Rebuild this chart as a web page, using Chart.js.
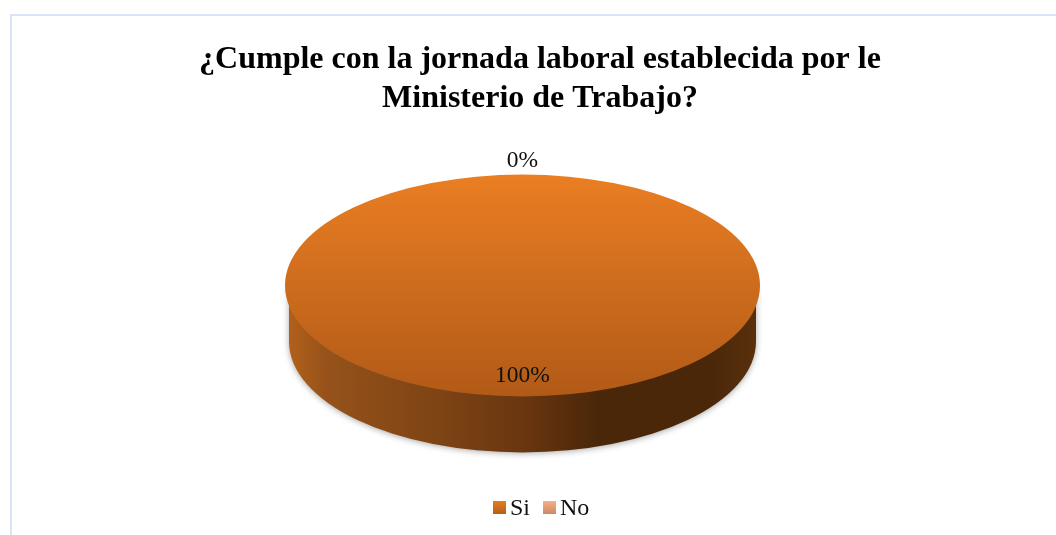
<!DOCTYPE html>
<html lang="es">
<head>
<meta charset="utf-8">
<title>Jornada laboral</title>
<script src="https://cdn.jsdelivr.net/npm/chart.js@4/dist/chart.umd.min.js"></script>
<style>
  html, body { margin: 0; padding: 0; background: #fff; overflow: hidden; }
  #wrap { position: relative; width: 1056px; height: 535px; }
  #frame {
    position: absolute; left: 10px; top: 14px; right: 0; bottom: -4px;
    border-left: 2px solid #d9e5f6; border-top: 2px solid #d9e5f6;
  }
  canvas { position: absolute; left: 0; top: 0; }
</style>
</head>
<body>
<div id="wrap">
  <div id="frame"></div>
  <canvas id="chart" width="1056" height="535"></canvas>
</div>
<script>
const titleLines = ['¿Cumple con la jornada laboral establecida por le', 'Ministerio de Trabajo?']
const categories = ['Si', 'No']
const values = [100, 0]

const SERIF = '"Liberation Serif", "Times New Roman", serif'

// the flat pie gets squashed into this ellipse, the rim hangs below it
const PIE = { cx: 522.5, cy: 285.5, rx: 237.5, ry: 111, rimRx: 233.5, rimDrop: 56 }
const LABEL_RADIUS = [0.8, 1.14]
const swatchColors = [['#e57c22', '#b65f18'], ['#f8b088', '#c98a64']]

function pieGradient(context) {
  const chart = context.chart
  const area = chart.chartArea
  if (!area) return '#d0701e'
  const midY = (area.top + area.bottom) / 2
  const r = Math.min(area.width, area.height) / 2
  const g = chart.ctx.createLinearGradient(0, midY - r, 0, midY + r)
  g.addColorStop(0, '#ea7e23')
  g.addColorStop(1, '#b15a17')
  return g
}

function drawRim(ctx) {
  const bottomY = PIE.cy + PIE.rimDrop
  const left = PIE.cx - PIE.rimRx
  const right = PIE.cx + PIE.rimRx

  const g = ctx.createLinearGradient(left, 0, right, 0)
  g.addColorStop(0, '#b2601a')
  g.addColorStop(0.08, '#96521a')
  g.addColorStop(0.33, '#7c4314')
  g.addColorStop(0.5, '#6a3610')
  g.addColorStop(0.66, '#4a2709')
  g.addColorStop(0.9, '#4a2709')
  g.addColorStop(1, '#5a300c')

  ctx.save()
  ctx.shadowColor = 'rgba(60, 60, 60, 0.45)'
  ctx.shadowBlur = 6
  ctx.shadowOffsetY = 1
  ctx.fillStyle = g
  ctx.beginPath()
  ctx.moveTo(left, PIE.cy)
  ctx.lineTo(right, PIE.cy)
  ctx.lineTo(right, bottomY)
  ctx.ellipse(PIE.cx, bottomY, PIE.rimRx, PIE.ry, 0, 0, Math.PI)
  ctx.closePath()
  ctx.fill()
  ctx.restore()
}

const squashedPie = {
  id: 'squashedPie',
  beforeDatasetsDraw(chart) {
    const ctx = chart.ctx
    const arc = chart.getDatasetMeta(0).data[0]
    drawRim(ctx)
    ctx.save()
    ctx.translate(PIE.cx, PIE.cy)
    ctx.scale(PIE.rx / arc.outerRadius, PIE.ry / arc.outerRadius)
    ctx.translate(-arc.x, -arc.y)
  },
  afterDatasetsDraw(chart) {
    const ctx = chart.ctx
    ctx.restore()

    // percentage labels follow each slice's middle angle
    const total = values.reduce((a, b) => a + b, 0)
    ctx.save()
    ctx.font = '23.5px ' + SERIF
    ctx.fillStyle = '#111'
    ctx.textAlign = 'center'
    ctx.textBaseline = 'middle'
    chart.getDatasetMeta(0).data.forEach((arc, i) => {
      const angle = (arc.startAngle + arc.endAngle) / 2
      const x = PIE.cx + Math.cos(angle) * PIE.rx * LABEL_RADIUS[i]
      const y = PIE.cy + Math.sin(angle) * PIE.ry * LABEL_RADIUS[i]
      ctx.fillText(Math.round(values[i] / total * 100) + '%', x, y + 1.5)
    })
    ctx.restore()
  }
}

// legend drawn by hand because the built-in one forces a wider box-to-text gap
const tightLegend = {
  id: 'tightLegend',
  afterDraw(chart) {
    const ctx = chart.ctx
    const y = 501
    const size = 13
    let x = 493
    ctx.save()
    ctx.font = '24px ' + SERIF
    ctx.textBaseline = 'middle'
    chart.data.labels.forEach((label, i) => {
      const g = ctx.createLinearGradient(0, y, 0, y + size)
      g.addColorStop(0, swatchColors[i][0])
      g.addColorStop(1, swatchColors[i][1])
      ctx.fillStyle = g
      ctx.fillRect(x, y, size, size)
      ctx.fillStyle = '#111'
      ctx.textAlign = 'left'
      ctx.fillText(label, x + size + 4, y + size / 2 + 1)
      x += size + 4 + ctx.measureText(label).width + 13
    })
    ctx.restore()
  }
}

new Chart(document.getElementById('chart'), {
  type: 'pie',
  data: {
    labels: categories,
    datasets: [{
      data: values,
      backgroundColor: pieGradient,
      borderWidth: 0
    }]
  },
  options: {
    responsive: false,
    animation: false,
    layout: { padding: { left: 24, top: 0, bottom: 40 } },
    plugins: {
      legend: { display: false },
      tooltip: { enabled: false },
      title: {
        display: true,
        text: titleLines,
        color: '#000',
        font: { family: SERIF, size: 32, weight: 'bold', lineHeight: 1.2 },
        padding: { top: 41, bottom: 10 }
      }
    }
  },
  plugins: [squashedPie, tightLegend]
})
</script>
</body>
</html>
